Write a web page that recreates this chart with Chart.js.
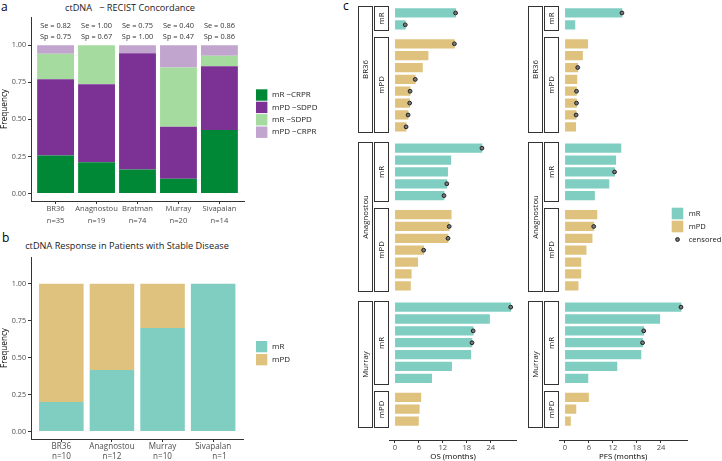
<!DOCTYPE html>
<html>
<head>
<meta charset="utf-8">
<script src="https://cdn.jsdelivr.net/npm/chart.js@4.4.0/dist/chart.umd.min.js"></script>
<style>
  body { margin: 0; width: 722px; height: 461px; background: #fff; position: relative; overflow: hidden; font-family: 'Open Sans', sans-serif; }
  canvas, .txt { position: absolute; }
  .txt { line-height: 1; white-space: nowrap; color: #1a1a1a; }
  .letter { font-size: 12px; color: #000; }
  .title { font-size: 9.2px; transform: translateX(-50%); }
</style>
</head>
<body>
<div class="txt letter" style="left:1px;top:1px">a</div>
<div class="txt title" style="left:130px;top:3px">ctDNA&nbsp;&nbsp;&nbsp;− RECIST Concordance</div>
<div class="txt letter" style="left:2px;top:232px">b</div>
<div class="txt title" style="left:127px;top:241px">ctDNA Response in Patients with Stable Disease</div>
<div class="txt letter" style="left:343px;top:0px">c</div>

<canvas id="concordance" width="345" height="228" style="left:0;top:0"></canvas>
<canvas id="stable" width="345" height="233" style="left:0;top:228px"></canvas>
<canvas id="osChart" width="170" height="461" style="left:352px;top:0"></canvas>
<canvas id="pfsChart" width="200" height="461" style="left:522px;top:0"></canvas>

<script>
const FONT = "'Open Sans', sans-serif";
const AXIS = "#333333";
const TICK_TEXT = "#4d4d4d";

// panel a: ctDNA vs RECIST concordance (fraction of patients)
const studiesA = ["BR36", "Anagnostou", "Bratman", "Murray", "Sivapalan"];
const sizesA = ["n=35", "n=19", "n=74", "n=20", "n=14"];
const seA = ["Se = 0.82", "Se = 1.00", "Se = 0.75", "Se = 0.40", "Se = 0.86"];
const spA = ["Sp = 0.75", "Sp = 0.67", "Sp = 1.00", "Sp = 0.47", "Sp = 0.86"];
const mrCrpr = [0.257, 0.211, 0.162, 0.10, 0.429];
const mpdSdpd = [0.514, 0.526, 0.784, 0.35, 0.429];
const mrSdpd = [0.171, 0.263, 0, 0.40, 0.071];
const mpdCrpr = [0.057, 0, 0.054, 0.15, 0.071];
const freqTicks = [0, 0.25, 0.5, 0.75, 1];

// panel b: ctDNA response in stable disease
const studiesB = ["BR36", "Anagnostou", "Murray", "Sivapalan"];
const sizesB = ["n=10", "n=12", "n=10", "      n=1"];
const stableMR = [0.2, 0.417, 0.7, 1.0];
const stableMPD = [0.8, 0.583, 0.3, 0];

// panel c: survival per patient, one list per facet
const facetStudies = ["BR36", "BR36", "Anagnostou", "Anagnostou", "Murray", "Murray"];
const facetResponses = ["mR", "mPD", "mR", "mPD", "mR", "mPD"];
const osMonths = [
  [15.2, 2.6],
  [14.9, 8.3, 6.9, 5.1, 3.8, 3.7, 3.3, 2.8],
  [21.8, 14.0, 13.2, 13.0, 12.3],
  [14.1, 13.6, 13.3, 7.2, 5.7, 4.1, 3.9],
  [29.0, 23.7, 19.6, 19.3, 19.0, 14.2, 9.2],
  [6.5, 6.1, 5.9],
];
const osCensored = [
  [1, 1],
  [1, 0, 0, 1, 1, 1, 1, 1],
  [1, 0, 0, 1, 1],
  [0, 1, 1, 1, 0, 0, 0],
  [1, 0, 1, 1, 0, 0, 0],
  [0, 0, 0],
];
const pfsMonths = [
  [14.25, 2.5],
  [5.7, 4.4, 3.2, 3.0, 2.9, 2.9, 2.8, 2.7],
  [14.0, 12.7, 12.4, 11.0, 7.4],
  [8.0, 7.2, 6.8, 5.3, 4.0, 4.0, 3.3],
  [29.0, 23.7, 19.7, 19.4, 19.0, 13.0, 5.75],
  [5.9, 2.75, 1.4],
];
const pfsCensored = [
  [1, 0],
  [0, 0, 1, 0, 1, 1, 1, 0],
  [0, 0, 1, 0, 0],
  [0, 1, 0, 0, 0, 0, 0],
  [1, 0, 1, 1, 0, 0, 0],
  [0, 0, 0],
];
const monthTicks = [0, 6, 12, 18, 24];

const colors = {
  mrCrpr: "#008837",
  mpdSdpd: "#7b3294",
  mrSdpd: "#a6dba0",
  mpdCrpr: "#c2a5cf",
  mR: "#80cdc1",
  mPD: "#dfc27d",
};

// row positions inside facets: one unit per patient, wider gap between studies
const rowPositions = [];
let rowCursor = 0;
facetStudies.forEach((study, f) => {
  if (f > 0) {
    rowCursor += facetStudies[f - 1] === study ? 1.6 : 1.8;
  }
  const rows = osMonths[f].map((_, i) => rowCursor + i);
  rowPositions.push(rows);
  rowCursor = rows[rows.length - 1];
});

function indexed(values) {
  return values.map((v, i) => ({ x: i, y: v }));
}

const sideLegend = {
  id: "sideLegend",
  afterDraw(chart, args, opts) {
    if (!opts.display) {
      return;
    }
    const ctx = chart.ctx;
    ctx.save();
    ctx.font = `${opts.fontSize}px ${FONT}`;
    ctx.textBaseline = "middle";
    ctx.textAlign = "left";
    chart.data.datasets.forEach((ds, i) => {
      const top = opts.top + i * opts.step;
      const mid = top + opts.size / 2;
      if (ds.type === "scatter") {
        ctx.beginPath();
        ctx.arc(opts.left + opts.size / 2, mid, ds.pointRadius, 0, Math.PI * 2);
        ctx.fillStyle = ds.pointBackgroundColor;
        ctx.fill();
        ctx.lineWidth = ds.pointBorderWidth;
        ctx.strokeStyle = ds.pointBorderColor;
        ctx.stroke();
      } else {
        ctx.fillStyle = ds.backgroundColor;
        ctx.fillRect(opts.left, top, opts.size, opts.size);
      }
      ctx.fillStyle = "#1a1a1a";
      ctx.fillText(ds.label, opts.textX, mid);
    });
    ctx.restore();
  },
};

const accuracyText = {
  id: "accuracyText",
  afterDatasetsDraw(chart, args, opts) {
    if (!opts.display) {
      return;
    }
    const { ctx, scales } = chart;
    ctx.save();
    ctx.font = `${opts.fontSize}px ${FONT}`;
    ctx.fillStyle = "#333333";
    ctx.textAlign = "center";
    ctx.textBaseline = "middle";
    seA.forEach((label, i) => {
      const x = scales.x.getPixelForValue(i);
      ctx.fillText(label, x, scales.y.getPixelForValue(opts.seAt));
      ctx.fillText(spA[i], x, scales.y.getPixelForValue(opts.spAt));
    });
    ctx.restore();
  },
};

const facetStrips = {
  id: "facetStrips",
  afterDraw(chart, args, opts) {
    if (!opts.display) {
      return;
    }
    const { ctx, chartArea, scales } = chart;
    const y = scales.y;
    const right = chartArea.left;
    const span = (f) => [
      y.getPixelForValue(rowPositions[f][0] - opts.pad),
      y.getPixelForValue(rowPositions[f][rowPositions[f].length - 1] + opts.pad),
    ];
    const box = (x0, x1, top, bottom, text) => {
      const l = Math.round(x0) + 0.5;
      const r = Math.round(x1) - 0.5;
      const t = Math.round(top) + 0.5;
      const b = Math.round(bottom) - 0.5;
      ctx.fillStyle = "#ffffff";
      ctx.fillRect(l, t, r - l, b - t);
      ctx.strokeRect(l, t, r - l, b - t);
      ctx.save();
      ctx.translate((l + r) / 2, (t + b) / 2);
      ctx.rotate(-Math.PI / 2);
      ctx.fillStyle = "#1a1a1a";
      ctx.fillText(text, 0, 0);
      ctx.restore();
    };
    ctx.save();
    ctx.strokeStyle = AXIS;
    ctx.lineWidth = 1;
    ctx.font = `${opts.fontSize}px ${FONT}`;
    ctx.textAlign = "center";
    ctx.textBaseline = "middle";
    facetResponses.forEach((resp, f) => {
      const [top, bottom] = span(f);
      box(right - opts.inner, right, top, bottom, resp);
    });
    const studies = [...new Set(facetStudies)];
    studies.forEach((study) => {
      const first = facetStudies.indexOf(study);
      const last = facetStudies.lastIndexOf(study);
      box(right - opts.outer[0], right - opts.outer[1], span(first)[0], span(last)[1], study);
    });
    ctx.restore();
  },
};

Chart.register(sideLegend, accuracyText, facetStrips);

function categoryAxis(labels, sizes, height, fontSize, lineHeight, padding) {
  return {
    type: "linear",
    min: -0.6,
    max: labels.length - 0.4,
    stacked: true,
    offset: false,
    afterBuildTicks: (scale) => {
      scale.ticks = labels.map((_, i) => ({ value: i }));
    },
    afterFit: (scale) => {
      scale.height = height;
    },
    ticks: {
      callback: (v) => [labels[v], sizes[v]],
      color: TICK_TEXT,
      font: { family: FONT, size: fontSize, lineHeight: lineHeight },
      padding: padding,
      maxRotation: 0,
      autoSkip: false,
    },
    grid: { drawOnChartArea: false, offset: false, tickLength: 3, tickColor: AXIS, tickWidth: 1 },
    border: { color: AXIS, width: 1 },
  };
}

function frequencyAxis(max) {
  return {
    min: -0.05,
    max: max,
    stacked: true,
    afterBuildTicks: (scale) => {
      scale.ticks = freqTicks.map((v) => ({ value: v }));
    },
    afterFit: (scale) => {
      scale.width = 31;
    },
    ticks: {
      callback: (v) => v.toFixed(2),
      color: TICK_TEXT,
      font: { family: FONT, size: 7.2 },
      padding: 2,
    },
    grid: { drawOnChartArea: false, tickLength: 3, tickColor: AXIS, tickWidth: 1 },
    border: { color: AXIS, width: 1 },
    title: {
      display: true,
      text: "Frequency",
      color: "#000000",
      font: { family: FONT, size: 8.2 },
      padding: 0,
    },
  };
}

const baseOptions = {
  responsive: false,
  animation: false,
  events: [],
  plugins: {
    legend: { display: false },
    tooltip: { enabled: false },
  },
};

new Chart(document.getElementById("concordance"), {
  type: "bar",
  data: {
    datasets: [
      { label: "mR −CRPR", data: indexed(mrCrpr), backgroundColor: colors.mrCrpr },
      { label: "mPD −SDPD", data: indexed(mpdSdpd), backgroundColor: colors.mpdSdpd },
      { label: "mR −SDPD", data: indexed(mrSdpd), backgroundColor: colors.mrSdpd },
      { label: "mPD −CRPR", data: indexed(mpdCrpr), backgroundColor: colors.mpdCrpr },
    ].map((ds) => ({ ...ds, categoryPercentage: 1, barPercentage: 0.9, borderWidth: 0 })),
  },
  options: {
    ...baseOptions,
    layout: { padding: { top: 17, right: 101, left: 0, bottom: 0 } },
    scales: {
      x: categoryAxis(studiesA, sizesA, 27, 7.6, 1.54, -1),
      y: frequencyAxis(1.19),
    },
    plugins: {
      ...baseOptions.plugins,
      sideLegend: { display: true, left: 256, top: 89.3, size: 11.4, step: 12.4, textX: 272, fontSize: 8 },
      accuracyText: { display: true, seAt: 1.13, spAt: 1.055, fontSize: 7.4 },
    },
  },
});

new Chart(document.getElementById("stable"), {
  type: "bar",
  data: {
    datasets: [
      { label: "mR", data: indexed(stableMR), backgroundColor: colors.mR },
      { label: "mPD", data: indexed(stableMPD), backgroundColor: colors.mPD },
    ].map((ds) => ({ ...ds, categoryPercentage: 1, barPercentage: 0.88, borderWidth: 0 })),
  },
  options: {
    ...baseOptions,
    layout: { padding: { top: 29, right: 101.5, left: 0, bottom: 0 } },
    scales: {
      x: categoryAxis(studiesB, sizesB, 22, 8.1, 1.23, 0),
      y: frequencyAxis(1.18),
    },
    plugins: {
      ...baseOptions.plugins,
      sideLegend: { display: true, left: 256, top: 113, size: 11.3, step: 13, textX: 272, fontSize: 8 },
    },
  },
});

function survivalChart(canvasId, months, censored, axisTitle, legend, padRight) {
  const mr = [];
  const mpd = [];
  const cens = [];
  facetResponses.forEach((resp, f) => {
    months[f].forEach((m, i) => {
      const point = { x: m, y: rowPositions[f][i] };
      (resp === "mR" ? mr : mpd).push(point);
      if (censored[f][i]) {
        cens.push(point);
      }
    });
  });
  const barStyle = { grouped: false, barThickness: 8.6, borderWidth: 0, order: 1 };
  return new Chart(document.getElementById(canvasId), {
    type: "bar",
    data: {
      datasets: [
        { label: "mR", data: mr, backgroundColor: colors.mR, ...barStyle },
        { label: "mPD", data: mpd, backgroundColor: colors.mPD, ...barStyle },
        {
          type: "scatter",
          label: "censored",
          data: cens,
          pointRadius: 1.9,
          pointBackgroundColor: "#7a7a7a",
          pointBorderColor: "#1f1f1f",
          pointBorderWidth: 1,
          order: 0,
        },
      ],
    },
    options: {
      ...baseOptions,
      indexAxis: "y",
      layout: { padding: { top: 0, right: padRight, left: 37.3, bottom: 0 } },
      scales: {
        x: {
          type: "linear",
          min: -1.4,
          max: 30.5,
          offset: false,
          afterBuildTicks: (scale) => {
            scale.ticks = monthTicks.map((v) => ({ value: v }));
          },
          afterFit: (scale) => {
            scale.height = 21;
          },
          ticks: { color: TICK_TEXT, font: { family: FONT, size: 7.6 }, padding: 0 },
          grid: { drawOnChartArea: false, offset: false, tickLength: 3, tickColor: AXIS, tickWidth: 1 },
          border: { color: AXIS, width: 1 },
          title: {
            display: true,
            text: axisTitle,
            color: "#000000",
            font: { family: FONT, size: 7.9 },
            padding: 0,
          },
        },
        y: {
          type: "linear",
          reverse: true,
          min: -0.67,
          max: 36.0,
          offset: false,
          display: false,
          afterBuildTicks: (scale) => {
            scale.ticks = [{ value: 0 }];
          },
        },
      },
      plugins: {
        ...baseOptions.plugins,
        facetStrips: { display: true, pad: 0.55, inner: 15, outer: [31, 16.6], fontSize: 7.8 },
        sideLegend: {
          display: legend,
          left: 149.7,
          top: 207.7,
          size: 11.6,
          step: 13,
          textX: 166.7,
          fontSize: 7.6,
        },
      },
    },
  });
}

survivalChart("osChart", osMonths, osCensored, "OS (months)", false, 5.3);
survivalChart("pfsChart", pfsMonths, pfsCensored, "PFS (months)", true, 35);
</script>
</body>
</html>
